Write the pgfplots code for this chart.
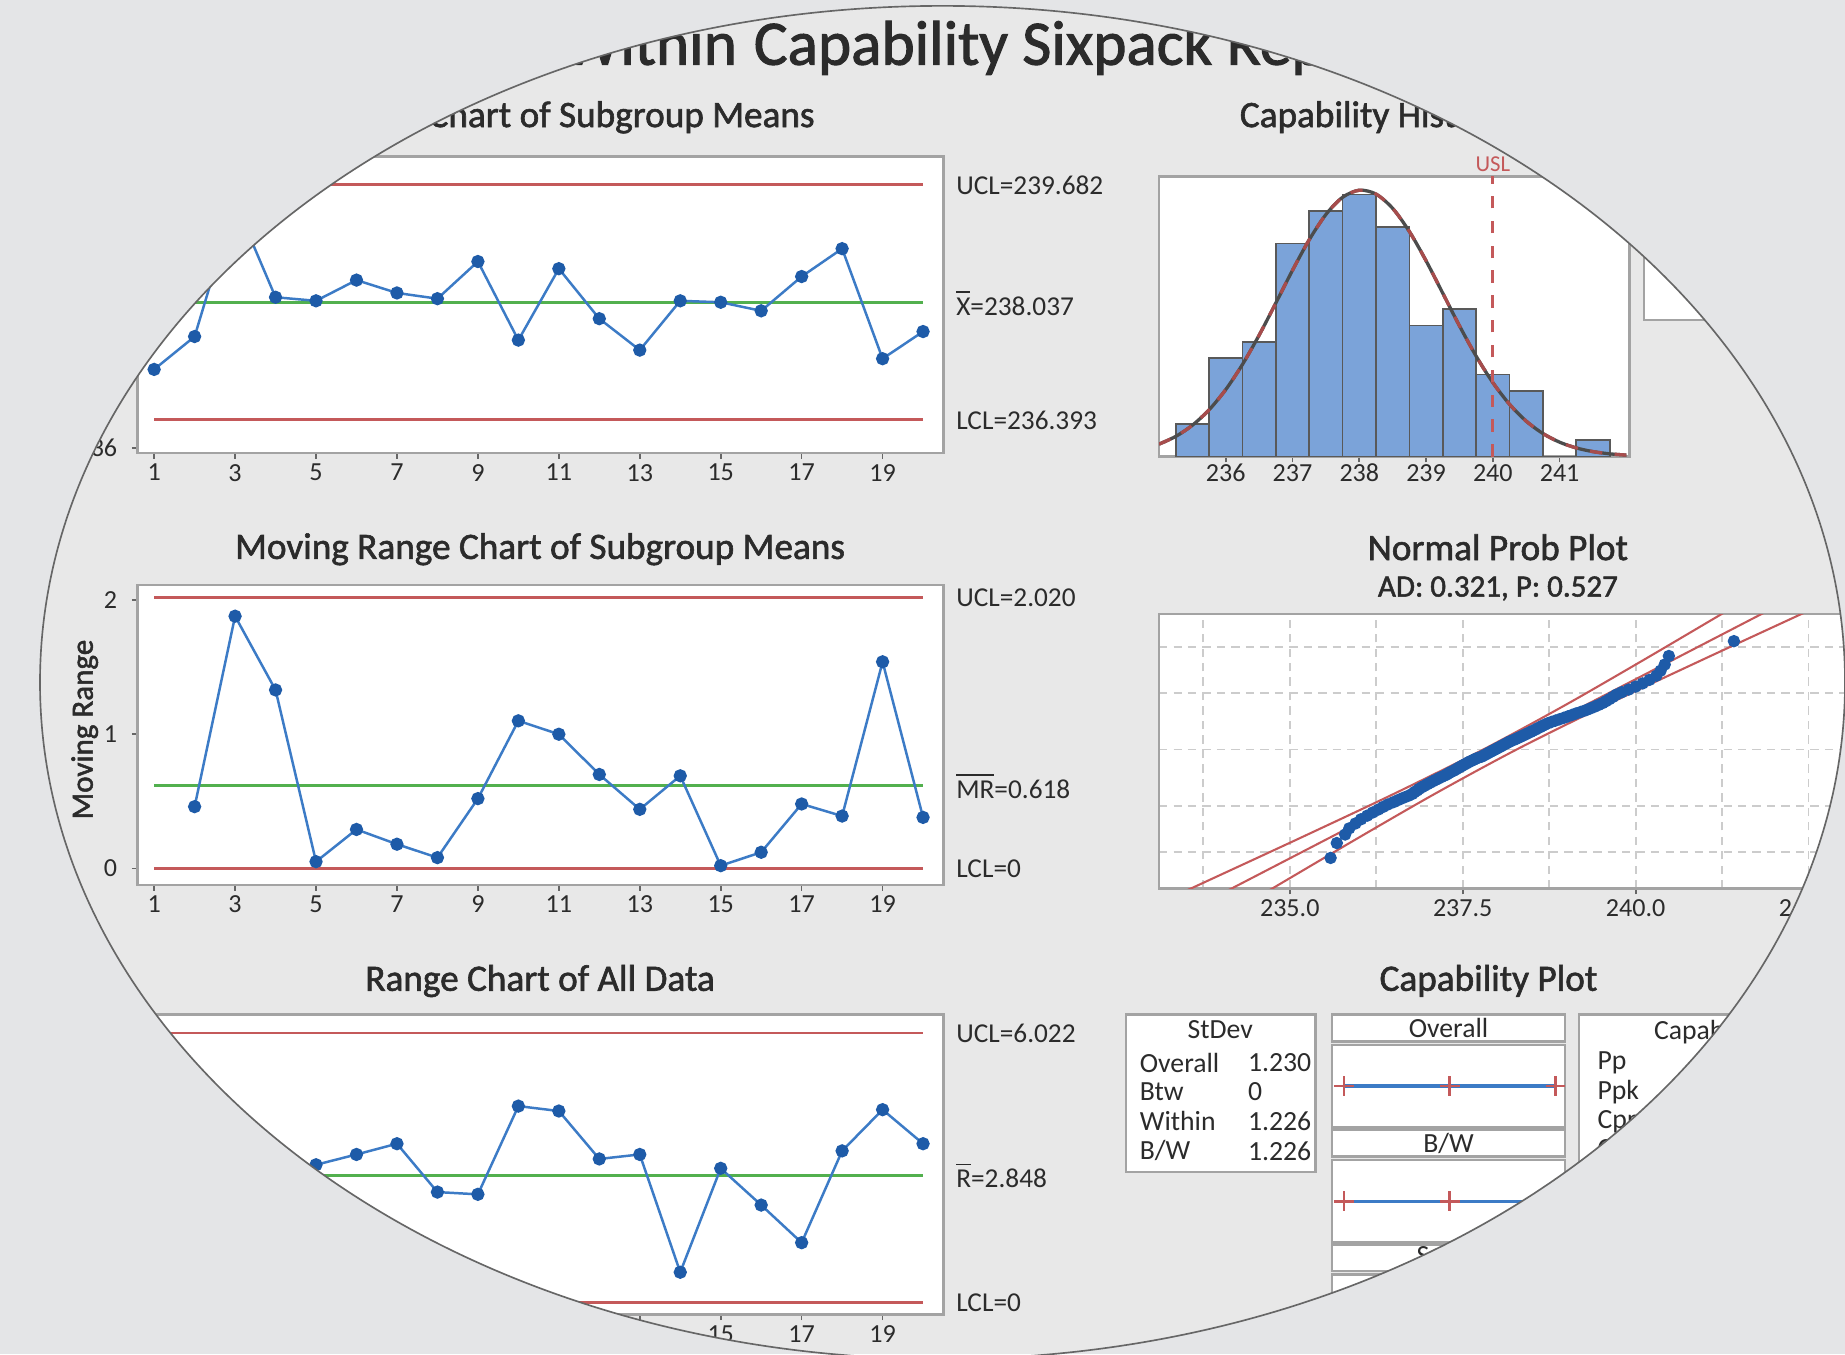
\documentclass[border=0pt]{standalone}
\usepackage{fontspec}
\setmainfont{Carlito}
\newfontfamily\semib{Carlito}[FakeBold=1.6]
\usepackage{pgfplots}
\usepackage{pgfplotstable}
\pgfplotsset{compat=1.18}

\definecolor{bgin}{HTML}{E8E8E8}
\definecolor{bgout}{HTML}{E4E5E7}
\definecolor{frame}{HTML}{A3A3A3}
\definecolor{uclc}{HTML}{C4595A}
\definecolor{clc}{HTML}{52B04E}
\definecolor{ptc}{HTML}{1E5BA8}
\definecolor{lnc}{HTML}{3C7BC6}
\definecolor{histc}{HTML}{7BA3D9}
\definecolor{txt}{HTML}{2B2B2B}

\newcommand\fs[1]{\fontsize{#1}{#1}\selectfont}

\pgfplotstableread{
x y
1 237.10
2 237.56
3 239.44
4 238.11
5 238.06
6 238.35
7 238.17
8 238.09
9 238.61
10 237.51
11 238.51
12 237.81
13 237.37
14 238.06
15 238.04
16 237.92
17 238.40
18 238.79
19 237.25
20 237.63
}\imeans

\pgfplotstableread{
x y
2 0.46
3 1.88
4 1.33
5 0.05
6 0.29
7 0.18
8 0.08
9 0.52
10 1.10
11 1.00
12 0.70
13 0.44
14 0.69
15 0.02
16 0.12
17 0.48
18 0.39
19 1.54
20 0.38
}\mrdata

\pgfplotstableread{
x y
1 2.00
2 2.60
3 1.90
4 2.00
5 3.08
6 3.31
7 3.55
8 2.47
9 2.42
10 4.39
11 4.28
12 3.21
13 3.31
14 0.68
15 3.00
16 2.18
17 1.34
18 3.39
19 4.31
20 3.55
}\rdata

\pgfplotstableread{
x y
235.00 0.757
235.25 1.228
235.50 1.912
235.75 2.855
236.00 4.092
236.25 5.625
236.50 7.415
236.75 9.378
237.00 11.378
237.25 13.240
237.50 14.781
237.75 15.831
238.00 16.263
238.25 16.026
238.50 15.151
238.75 13.738
239.00 11.952
239.25 9.972
239.50 7.982
239.75 6.129
240.00 4.515
240.25 3.191
240.50 2.162
240.75 1.406
241.00 0.877
241.25 0.525
241.50 0.301
241.75 0.166
242.00 0.088
}\curve

\pgfplotstableread{
x z
235.59 -2.459
235.68 -2.122
235.80 -1.928
235.86 -1.788
235.95 -1.677
236.03 -1.582
236.12 -1.500
236.20 -1.428
236.28 -1.361
236.35 -1.301
236.42 -1.245
236.50 -1.193
236.57 -1.143
236.64 -1.096
236.71 -1.052
236.77 -1.009
236.80 -0.968
236.84 -0.930
236.87 -0.892
236.91 -0.855
236.95 -0.820
236.99 -0.785
237.03 -0.752
237.07 -0.719
237.11 -0.687
237.15 -0.656
237.19 -0.625
237.23 -0.595
237.27 -0.566
237.30 -0.536
237.33 -0.508
237.37 -0.480
237.40 -0.452
237.43 -0.424
237.46 -0.397
237.49 -0.370
237.52 -0.344
237.55 -0.318
237.58 -0.292
237.61 -0.266
237.65 -0.240
237.68 -0.214
237.72 -0.189
237.77 -0.163
237.80 -0.138
237.83 -0.113
237.86 -0.088
237.89 -0.062
237.92 -0.038
237.95 -0.013
237.98 0.013
238.01 0.038
238.04 0.062
238.07 0.088
238.10 0.113
238.13 0.138
238.16 0.163
238.19 0.189
238.23 0.214
238.27 0.240
238.30 0.266
238.34 0.292
238.37 0.318
238.41 0.344
238.44 0.370
238.48 0.397
238.51 0.424
238.55 0.452
238.58 0.480
238.62 0.508
238.65 0.536
238.69 0.566
238.73 0.595
238.78 0.625
238.84 0.656
238.90 0.687
238.96 0.719
239.02 0.752
239.08 0.785
239.14 0.820
239.21 0.855
239.28 0.892
239.34 0.930
239.40 0.968
239.46 1.009
239.52 1.052
239.57 1.096
239.62 1.143
239.67 1.193
239.72 1.245
239.80 1.301
239.90 1.361
240.00 1.428
240.10 1.500
240.20 1.582
240.30 1.677
240.36 1.788
240.42 1.928
240.48 2.122
241.42 2.459
}\probdata

\pgfplotstableread{
x z
233.505 -3.2
233.782 -3.0
235.159 -2.0
236.512 -1.0
237.796 0.0
238.972 1.0
240.079 2.0
241.162 3.0
241.377 3.2
}\bandlo

\pgfplotstableread{
x z
234.101 -3.2
234.347 -3.0
235.577 -2.0
236.807 -1.0
238.037 0.0
239.267 1.0
240.497 2.0
241.727 3.0
241.973 3.2
}\bandmid

\pgfplotstableread{
x z
234.697 -3.2
234.912 -3.0
235.995 -2.0
237.102 -1.0
238.278 0.0
239.562 1.0
240.915 2.0
242.292 3.0
242.569 3.2
}\bandhi

\tikzset{
  lim/.style={anchor=west, xshift=0.1cm, inner sep=0pt, font=\fs{6.6}, text=txt},
  ttl/.style={inner sep=0pt, font=\semib\fs{9}, text=txt},
  cell/.style={inner sep=0pt, font=\fs{6.7}, text=txt},
}

\pgfplotsset{
  mini/.style={
    scale only axis, clip mode=individual,
    axis background/.style={fill=white},
    axis line style={draw=frame, line width=0.6pt},
    tick style={draw=black!60, line width=0.4pt},
    tick align=outside, major tick length=0.05cm,
    xtick pos=left, ytick pos=left,
    tick label style={font=\fs{6.3}, text=txt},
    xticklabel style={yshift=0.08cm},
    /pgf/number format/assume math mode=true,
  },
  ctrl/.style={mini, xmin=0.593, xmax=20.51, xtick={1,3,...,19},
    anchor=south west, width=6.85cm},
  ucl/.style={uclc, line width=0.7pt},
  cl/.style={clc, line width=0.7pt},
  dataline/.style={lnc, line width=0.6pt, mark=*, mark size=1.3pt,
    mark options={fill=ptc, draw=ptc}},
}

\begin{document}
\begin{tikzpicture}
\useasboundingbox (0,0) rectangle (15.68,11.51);
\fill[bgout] (0,0) rectangle (15.68,11.51);
\begin{scope}
\clip (8.01,5.71) ellipse [x radius=7.67, y radius=5.75];
\fill[bgin] (0,0) rectangle (15.68,11.51);

% main title
\node[anchor=base east, inner sep=0pt, font=\semib\fs{15.3}, text=txt] at (6.27,10.96) {Between/Within};
\node[anchor=base west, inner sep=0pt, font=\semib\fs{15.3}, text=txt] at (6.40,10.96) {Capability Sixpack Report for Weight};

% panel titles
\node[ttl, anchor=base east] at (6.93,10.43) {I Chart of Subgroup Means};
\node[ttl, anchor=base] at (4.59,6.76) {Moving Range Chart of Subgroup Means};
\node[ttl, anchor=base] at (4.59,3.09) {Range Chart of All Data};
\node[ttl, anchor=base west] at (10.53,10.43) {Capability Histogram};
\node[ttl, anchor=base] at (12.73,6.75) {Normal Prob Plot};
\node[inner sep=0pt, font=\semib\fs{7.5}, text=txt, anchor=base] at (12.73,6.44) {AD: 0.321, P: 0.527};
\node[ttl, anchor=base] at (12.65,3.09) {Capability Plot};

\node[rotate=90, inner sep=0pt, font=\semib\fs{7.5}, text=txt] at (0.72,5.31) {Moving Range};

% I chart
\begin{axis}[ctrl, at={(1.17cm,7.66cm)}, height=2.52cm,
  ymin=235.93, ymax=240.08, ytick={236,237,238,239,240}]
\addplot[ucl] coordinates {(1,239.682) (20,239.682)};
\addplot[ucl] coordinates {(1,236.393) (20,236.393)};
\addplot[cl] coordinates {(1,238.037) (20,238.037)};
\addplot[dataline] table {\imeans};
\node[lim] at (axis cs:20.51,239.682) {UCL=239.682};
\node[lim] at (axis cs:20.51,238.037) {$\overline{\mbox{X}}$=238.037};
\node[lim] at (axis cs:20.51,236.393) {LCL=236.393};
\end{axis}

% MR chart
\begin{axis}[ctrl, at={(1.17cm,3.99cm)}, height=2.55cm,
  ymin=-0.123, ymax=2.114, ytick={0,1,2}]
\addplot[ucl] coordinates {(1,2.020) (20,2.020)};
\addplot[ucl] coordinates {(1,0) (20,0)};
\addplot[cl] coordinates {(1,0.618) (20,0.618)};
\addplot[dataline] table {\mrdata};
\node[lim] at (axis cs:20.51,2.020) {UCL=2.020};
\node[lim] at (axis cs:20.51,0.618) {$\overline{\mbox{MR}}$=0.618};
\node[lim] at (axis cs:20.51,0) {LCL=0};
\end{axis}

% Range chart
\begin{axis}[ctrl, at={(1.17cm,0.34cm)}, height=2.55cm,
  ymin=-0.26, ymax=6.44, ytick={0,2,4,6}]
\addplot[ucl] coordinates {(1,6.022) (20,6.022)};
\addplot[ucl] coordinates {(1,0) (20,0)};
\addplot[cl] coordinates {(1,2.848) (20,2.848)};
\addplot[dataline] table {\rdata};
\node[lim] at (axis cs:20.51,6.022) {UCL=6.022};
\node[lim] at (axis cs:20.51,2.848) {$\overline{\mbox{R}}$=2.848};
\node[lim] at (axis cs:20.51,0) {LCL=0};
\end{axis}

% Capability histogram
\begin{axis}[mini, at={(9.85cm,7.63cm)}, anchor=south west, width=4.00cm, height=2.38cm,
  xmin=235.0, xmax=242.05, ymin=0, ymax=17.1, xtick={236,...,241}, ytick=\empty,
  xticklabel style={yshift=0.03cm}]
\addplot[ybar interval, fill=histc, draw=black!65, line width=0.4pt] coordinates {
 (235.25,2) (235.75,6) (236.25,7) (236.75,13) (237.25,15) (237.75,16) (238.25,14)
 (238.75,8) (239.25,9) (239.75,5) (240.25,4) (240.75,0) (241.25,1) (241.75,1)};
\addplot[black!70, line width=0.8pt, smooth] table {\curve};
\addplot[uclc!85!black, dashed, line width=0.8pt, smooth] table {\curve};
\addplot[uclc, dashed, line width=0.7pt] coordinates {(240,0) (240,17.1)};
\node[anchor=south, inner sep=1pt, font=\fs{5.5}, text=uclc] at (axis cs:240,17.1) {USL};
\end{axis}
\draw[frame, fill=white, line width=0.6pt] (13.97,8.79) rectangle (16.2,10.01);

% Normal probability plot
\begin{axis}[mini, at={(9.85cm,3.96cm)}, anchor=south west, width=5.85cm, height=2.33cm,
  xmin=233.11, xmax=243.06, ymin=-3.15, ymax=3.07,
  xtick={235,237.5,240,242.5}, xticklabels={235.0,237.5,240.0,242.5},
  minor xtick={233.75,236.25,238.75,241.25}, minor tick length=0pt,
  ytick={-2.326,-1.2816,0,1.2816,2.326}, yticklabels={,,,,}, ytick style={draw=none},
  xmajorgrids, xminorgrids, ymajorgrids,
  grid style={black!20, dash pattern=on 2pt off 1.5pt, line width=0.4pt},
  minor grid style={black!20, dash pattern=on 2pt off 1.5pt, line width=0.4pt}]
\addplot[uclc, line width=0.5pt, smooth] table {\bandlo};
\addplot[uclc, line width=0.5pt] table {\bandmid};
\addplot[uclc, line width=0.5pt, smooth] table {\bandhi};
\addplot[only marks, mark=*, mark size=1.3pt, mark options={fill=ptc, draw=ptc}] table {\probdata};
\end{axis}

% Capability plot: StDev box
\draw[frame, fill=white, line width=0.6pt] (9.57,1.55) rectangle (11.18,2.89);
\node[cell] at (10.37,2.76) {StDev};
\node[cell, anchor=west] at (9.68,2.48) {Overall};
\node[cell, anchor=west] at (10.60,2.48) {1.230};
\node[cell, anchor=west] at (9.68,2.23) {Btw};
\node[cell, anchor=west] at (10.60,2.23) {0};
\node[cell, anchor=west] at (9.68,1.98) {Within};
\node[cell, anchor=west] at (10.60,1.98) {1.226};
\node[cell, anchor=west] at (9.68,1.73) {B/W};
\node[cell, anchor=west] at (10.60,1.73) {1.226};

% Capability plot: interval column
\draw[frame, fill=white, line width=0.6pt] (11.32,2.66) rectangle (13.30,2.89);
\node[cell] at (12.31,2.775) {Overall};
\draw[frame, fill=white, line width=0.6pt] (11.32,1.68) rectangle (13.30,1.91);
\node[cell] at (12.31,1.795) {B/W};
\draw[frame, fill=white, line width=0.6pt] (11.32,0.71) rectangle (13.30,0.93);
\node[cell] at (12.31,0.82) {Specs};
\draw[frame, fill=white, line width=0.6pt] (11.32,-0.20) rectangle (13.30,0.68);

\begin{axis}[scale only axis, at={(11.32cm,1.93cm)}, anchor=south west, width=1.98cm, height=0.70cm,
  xmin=233.937, xmax=242.055, ymin=0, ymax=1, clip=false,
  axis background/.style={fill=white}, axis line style={draw=frame, line width=0.6pt},
  xtick=\empty, ytick=\empty]
\addplot[lnc, line width=0.9pt, mark=+, mark size=2.4pt, mark options={uclc, line width=0.6pt}]
  coordinates {(234.347,0.5) (238.037,0.5) (241.727,0.5)};
\end{axis}
\begin{axis}[scale only axis, at={(11.32cm,0.95cm)}, anchor=south west, width=1.98cm, height=0.70cm,
  xmin=233.937, xmax=242.055, ymin=0, ymax=1, clip=false,
  axis background/.style={fill=white}, axis line style={draw=frame, line width=0.6pt},
  xtick=\empty, ytick=\empty]
\addplot[lnc, line width=0.9pt, mark=+, mark size=2.4pt, mark options={uclc, line width=0.6pt}]
  coordinates {(234.359,0.5) (238.037,0.5) (241.715,0.5)};
\end{axis}

% Capability plot: stats column
\draw[frame, fill=white, line width=0.6pt] (13.42,0.40) rectangle (16.2,2.89);
\node[cell, anchor=west] at (14.05,2.74) {Capability Stats};
\node[cell, anchor=west] at (13.57,2.48) {Pp};
\node[cell, anchor=west] at (13.57,2.23) {Ppk};
\node[cell, anchor=west] at (13.57,1.98) {Cpm};
\node[cell, anchor=west] at (13.57,1.73) {Cp};
\node[cell, anchor=west] at (13.57,1.48) {Cpk};
\end{scope}
\draw[black!60, line width=0.4pt] (8.01,5.71) ellipse [x radius=7.67, y radius=5.75];
\end{tikzpicture}
\end{document}
